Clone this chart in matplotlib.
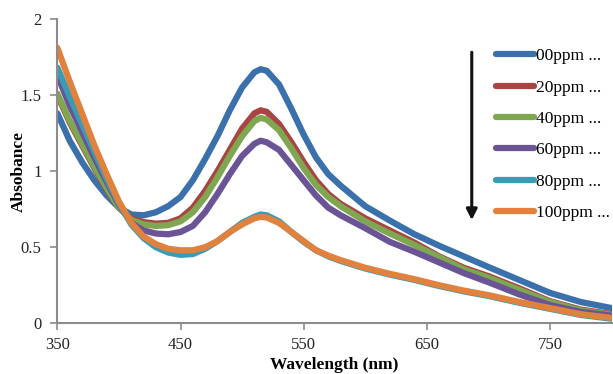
#!/usr/bin/env python3
"""UV-vis absorbance spectra at increasing concentration."""

import matplotlib

matplotlib.use("Agg")
import matplotlib.pyplot as plt

wavelength = [350, 360, 370, 380, 390, 400, 410, 420, 430, 440, 450, 460, 470,
              480, 490, 500, 510, 515, 520, 530, 540, 550, 560, 570, 580, 600,
              620, 640, 660, 680, 700, 725, 750, 775, 800]

abs_00 = [1.38, 1.20, 1.06, 0.94, 0.84, 0.76, 0.715, 0.71, 0.73, 0.77, 0.83,
          0.94, 1.08, 1.23, 1.40, 1.55, 1.65, 1.67, 1.66, 1.57, 1.41, 1.24,
          1.09, 0.98, 0.905, 0.77, 0.675, 0.585, 0.51, 0.44, 0.37, 0.285,
          0.20, 0.14, 0.10]
abs_20 = [1.50, 1.32, 1.17, 1.02, 0.88, 0.76, 0.69, 0.665, 0.655, 0.66, 0.69,
          0.76, 0.87, 1.00, 1.14, 1.28, 1.38, 1.40, 1.39, 1.31, 1.19, 1.06,
          0.94, 0.85, 0.785, 0.69, 0.61, 0.53, 0.44, 0.365, 0.31, 0.23, 0.145,
          0.09, 0.06]
abs_40 = [1.51, 1.33, 1.18, 1.03, 0.89, 0.76, 0.68, 0.65, 0.64, 0.645, 0.67,
          0.73, 0.83, 0.96, 1.10, 1.23, 1.33, 1.35, 1.34, 1.27, 1.15, 1.02,
          0.91, 0.83, 0.77, 0.67, 0.59, 0.515, 0.435, 0.355, 0.30, 0.22, 0.14,
          0.085, 0.055]
abs_60 = [1.63, 1.43, 1.26, 1.09, 0.93, 0.78, 0.66, 0.61, 0.59, 0.585, 0.60,
          0.64, 0.73, 0.85, 0.98, 1.10, 1.18, 1.20, 1.19, 1.14, 1.04, 0.94,
          0.84, 0.76, 0.71, 0.625, 0.535, 0.47, 0.40, 0.33, 0.27, 0.19, 0.12,
          0.075, 0.05]
abs_80 = [1.68, 1.49, 1.31, 1.13, 0.95, 0.79, 0.65, 0.56, 0.50, 0.465, 0.45,
          0.455, 0.49, 0.54, 0.60, 0.66, 0.70, 0.715, 0.71, 0.67, 0.60, 0.535,
          0.48, 0.44, 0.41, 0.36, 0.32, 0.285, 0.245, 0.21, 0.18, 0.135, 0.095,
          0.055, 0.03]
abs_100 = [1.81, 1.59, 1.38, 1.17, 0.98, 0.80, 0.66, 0.57, 0.52, 0.49, 0.48,
           0.48, 0.50, 0.54, 0.60, 0.65, 0.69, 0.70, 0.695, 0.66, 0.60, 0.54,
           0.48, 0.445, 0.415, 0.365, 0.325, 0.29, 0.25, 0.215, 0.185, 0.14,
           0.10, 0.06, 0.035]

labels = ["00ppm ...", "20ppm ...", "40ppm ...", "60ppm ...", "80ppm ...",
          "100ppm ..."]
colors = ["#3A70AB", "#A84543", "#7FA650", "#6A5496", "#3A9BB5", "#E0823E"]

x_ticks = [350, 450, 550, 650, 750]
y_ticks = [0, 0.5, 1, 1.5, 2]
y_tick_labels = ["0", "0.5", "1", "1.5", "2"]

plt.rcParams["font.family"] = ["Liberation Serif", "DejaVu Serif"]

fig = plt.figure(figsize=(6.13, 3.74), dpi=100)
ax = fig.add_axes([0.0936, 0.1356, 0.904, 0.8135])

series = [abs_00, abs_20, abs_40, abs_60, abs_80, abs_100]
for values, label, color in zip(series, labels, colors):
    ax.plot(wavelength, values, color=color, lw=4.5, label=label,
            solid_capstyle="round", solid_joinstyle="round")

ax.set_xlim(350, 800)
ax.set_ylim(0, 2)
ax.set_xticks(x_ticks)
ax.set_yticks(y_ticks)
ax.set_yticklabels(y_tick_labels)

for side in ("top", "right"):
    ax.spines[side].set_visible(False)
for side in ("left", "bottom"):
    ax.spines[side].set_color("#8C8C8C")
    ax.spines[side].set_linewidth(1.5)
ax.tick_params(axis="both", direction="out", length=5, width=1.2,
               color="#8C8C8C", labelsize=12, labelcolor="#222222")
ax.tick_params(axis="y", pad=6.5)
ax.tick_params(axis="x", pad=5)

ax.set_xlabel("Wavelength (nm)", fontsize=12.5, fontweight="bold", labelpad=3)
ax.set_ylabel("Absobance", fontsize=12.5, fontweight="bold")
ax.yaxis.set_label_coords(-0.055, 0.5)

# concentration arrow
ax.annotate("", xy=(686.5, 0.66), xytext=(686.5, 1.80),
            arrowprops=dict(arrowstyle="-|>", color="#111111", lw=2.2,
                            mutation_scale=16))

ax.legend(loc="upper left", bbox_to_anchor=(496 / 613, 1 - 48 / 374),
          bbox_transform=fig.transFigure, frameon=False, fontsize=12.5,
          handlelength=2.2, handletextpad=0.1, labelspacing=0.88,
          borderpad=0, borderaxespad=0)

fig.savefig("out.png", dpi=100)
